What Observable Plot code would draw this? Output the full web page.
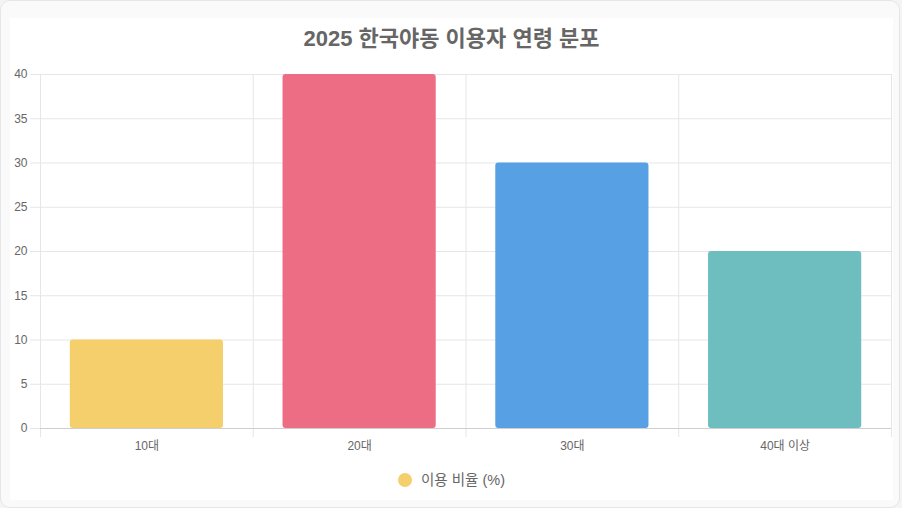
<!DOCTYPE html>
<html>
<head>
<meta charset="utf-8">
<script src="https://cdn.jsdelivr.net/npm/d3@7"></script>
<script src="https://cdn.jsdelivr.net/npm/@observablehq/plot@0.6"></script>
<style>
  html, body { margin: 0; padding: 0; background: #f4f4f4; }
  body { width: 902px; height: 508px; overflow: hidden; position: relative;
         font-family: "Liberation Sans", "Noto Sans CJK KR", sans-serif; }
  #card { position: absolute; left: 0; top: 0; width: 898px; height: 506px;
          background: #fafafa; border: 1px solid #e6e6e6; border-radius: 10px; }
  #inner { position: absolute; left: 10px; top: 18px; width: 883px; height: 482px; background: #fff; }
  #title { position: absolute; left: 0; top: 2px; width: 883px; text-align: center;
           font-size: 22px; font-weight: bold; color: #666; }
  #chart { position: absolute; left: 0; top: 42px; }
  #legend { position: absolute; left: 0; top: 450px; width: 883px; text-align: center;
            font-size: 14.5px; color: #666; }
  #legend .dot { display: inline-block; width: 14px; height: 14px; border-radius: 50%;
                 vertical-align: -2px; margin-right: 9px; }
</style>
</head>
<body>
<div id="card"></div>
<div id="inner">
  <div id="title"></div>
  <div id="chart"></div>
  <div id="legend"></div>
</div>
<script>
const title = "2025 한국야동 이용자 연령 분포";
const categories = ["10대", "20대", "30대", "40대 이상"];
const values = [10, 40, 30, 20];
const colors = ["#F5CF6B", "#EC6D84", "#56A0E3", "#6EBEBF"];
const yTicks = [0, 5, 10, 15, 20, 25, 30, 35, 40];
const seriesLabel = "이용 비율 (%)";

const data = categories.map((c, i) => ({i, category: c, value: values[i], color: colors[i]}));
const idx = categories.map((_, i) => i);
const bounds = d3.range(categories.length + 1);

document.getElementById("title").textContent = title;

const plot = Plot.plot({
  width: 883,
  height: 400,
  marginLeft: 30,
  marginRight: 2,
  marginTop: 14,
  marginBottom: 32,
  style: {fontFamily: "'Liberation Sans', 'Noto Sans CJK KR', sans-serif", fontSize: "12px", background: "transparent"},
  x: {domain: [0, categories.length], axis: null},
  y: {domain: [0, 40], axis: null},
  marks: [
    Plot.ruleY(yTicks.filter(t => t > 0), {y: d => d, stroke: "#e6e6e6"}),
    Plot.ruleX(bounds, {x: d => d, y1: 0, y2: 40, stroke: "#e6e6e6"}),
    Plot.axisY({ticks: yTicks, tickSize: 10, tickPadding: 3, stroke: "#e6e6e6", fill: "#666", fontSize: 12, label: null}),
    Plot.axisX({ticks: bounds, tickSize: 9, tickFormat: () => "", stroke: "#e6e6e6", label: null}),
    Plot.rectY(data, {x1: d => d.i + 0.14, x2: d => d.i + 0.86, y1: 0, y2: "value", fill: "color", rx: 3}),
    Plot.ruleY([0], {stroke: "#cfcfcf"}),
    Plot.axisX({ticks: idx.map(i => i + 0.5), tickSize: 0, tickPadding: 13,
      tickFormat: d => categories[Math.floor(d)], fill: "#666", fontSize: 12, label: null})
  ]
});
document.getElementById("chart").appendChild(plot);

const lg = document.getElementById("legend");
const dot = document.createElement("span");
dot.className = "dot";
dot.style.background = colors[0];
lg.appendChild(dot);
lg.appendChild(document.createTextNode(seriesLabel));
</script>
</body>
</html>
